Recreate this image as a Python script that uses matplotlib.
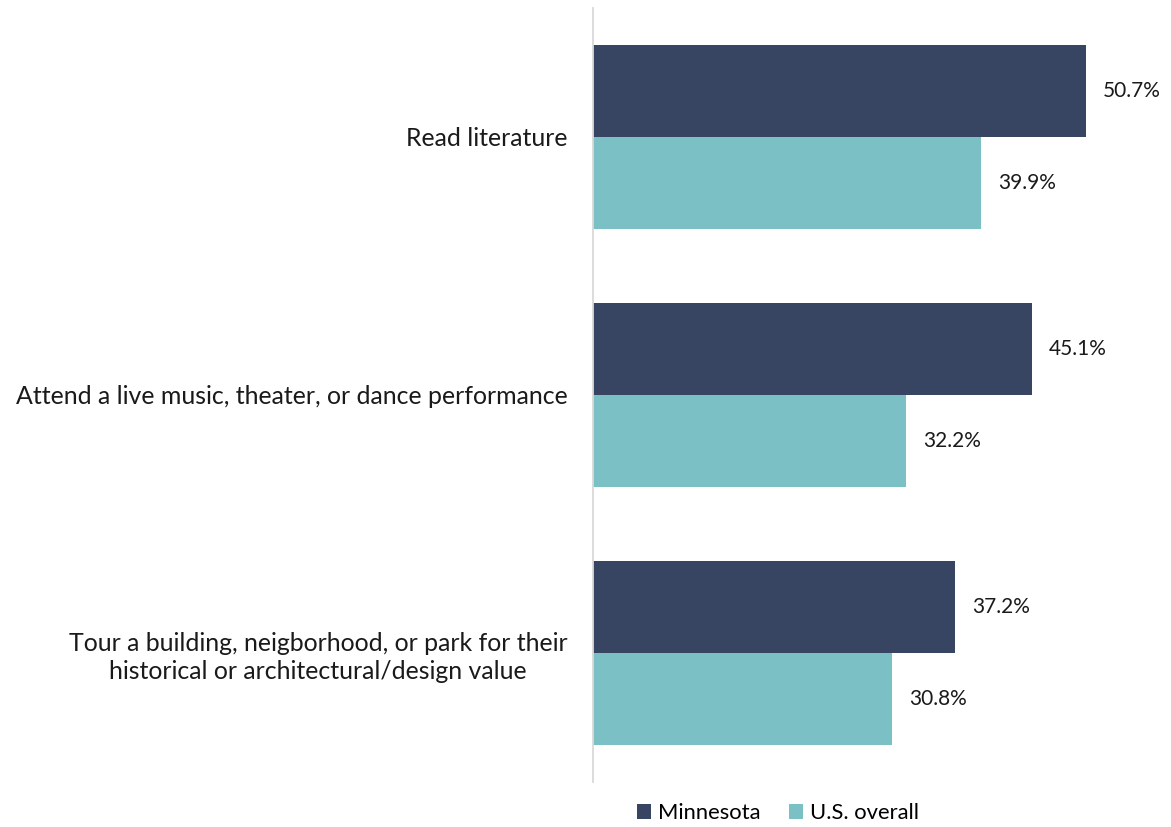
import matplotlib
matplotlib.use("Agg")
import matplotlib.pyplot as plt
from matplotlib.patches import Patch
import numpy as np

# Share of adults who did each activity in the past year
categories = [
    "Read literature",
    "Attend a live music, theater, or dance performance",
    "Tour a building, neigborhood, or park for their\nhistorical or architectural/design value",
]
minnesota = [50.7, 45.1, 37.2]
us_overall = [39.9, 32.2, 30.8]
series_names = ["Minnesota", "U.S. overall"]

NAVY = "#374562"
TEAL = "#7BC0C5"

plt.rcParams["font.family"] = ["Lato", "DejaVu Sans"]

W, H = 1171, 827
fig = plt.figure(figsize=(W / 100, H / 100), dpi=100)

left_px, right_px, top_px, bottom_px = 593, 1166, 8, 782
ax = fig.add_axes([left_px / W, 1 - bottom_px / H,
                   (right_px - left_px) / W, (bottom_px - top_px) / H])

y = np.arange(len(categories))
bh = 0.356
b1 = ax.barh(y - bh / 2, minnesota, height=bh, color=NAVY)
b2 = ax.barh(y + bh / 2, us_overall, height=bh, color=TEAL)

ax.set_xlim(0, (right_px - left_px) / 9.724)
ax.set_ylim(2.5, -0.5)

for bars, vals in ((b1, minnesota), (b2, us_overall)):
    for rect, v in zip(bars, vals):
        ax.annotate(f"{v:.1f}%", xy=(v, rect.get_y() + rect.get_height() / 2),
                    xytext=(17, 0), textcoords="offset pixels",
                    ha="left", va="center", fontsize=15, color="#1a1a1a")

ax.set_yticks(y)
ax.set_yticklabels(categories, fontsize=17.9, color="#1a1a1a", multialignment="center",
                   linespacing=1.28)
ax.tick_params(axis="y", length=0, pad=18.5)
ax.set_xticks([])

for s in ("top", "right", "bottom"):
    ax.spines[s].set_visible(False)
ax.spines["left"].set_color("#D9D9D9")
ax.spines["left"].set_linewidth(1.3)

handles = [Patch(facecolor=NAVY, label=series_names[0]),
           Patch(facecolor=TEAL, label=series_names[1])]
fig.legend(handles=handles, loc="center", bbox_to_anchor=(778 / W, 1 - 813 / H),
           ncol=2, frameon=False, fontsize=15.8, handlelength=0.65, handleheight=0.65,
           handletextpad=0.3, columnspacing=1.3)

fig.savefig("out.png", dpi=100)
